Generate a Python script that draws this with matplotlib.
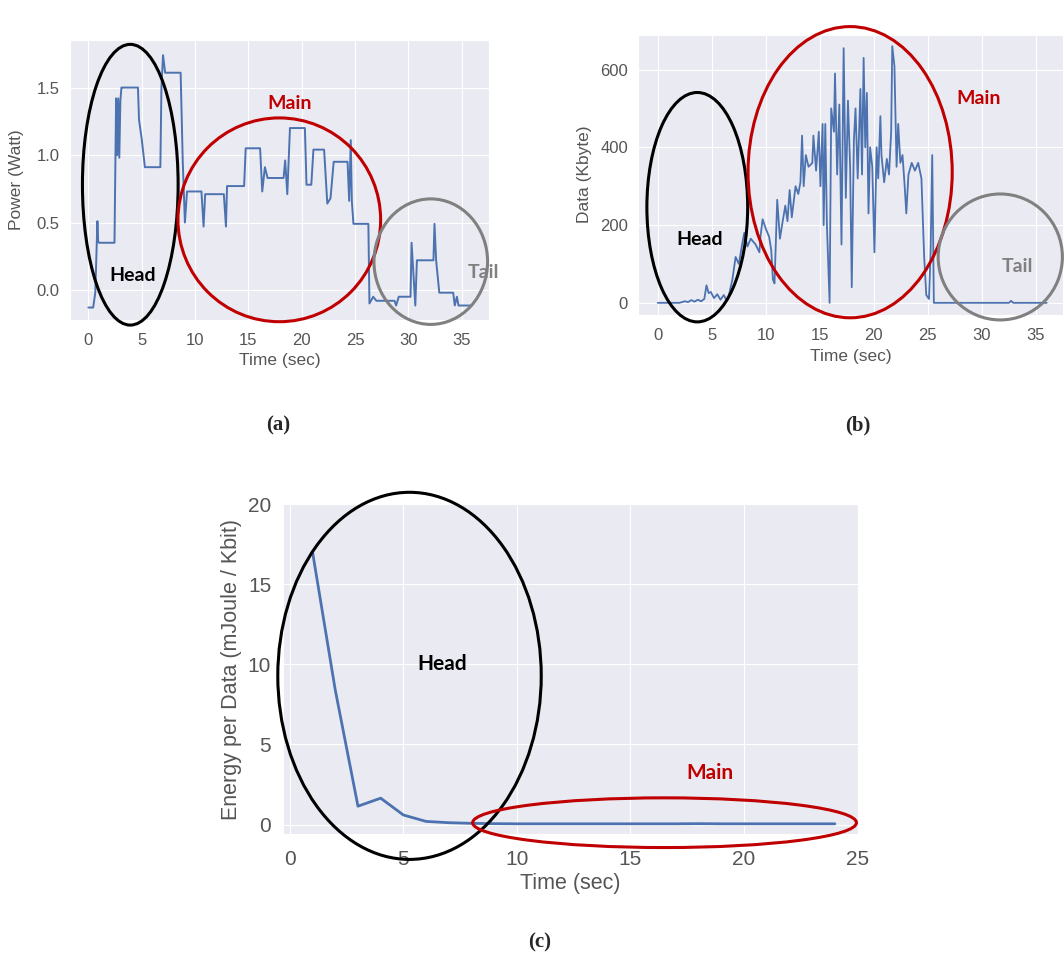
import numpy as np
import matplotlib
matplotlib.use("Agg")
import matplotlib.pyplot as plt
import seaborn as sns
from matplotlib.patches import Ellipse

sns.set_style("darkgrid")
plt.rcParams['font.family'] = ['Liberation Sans', 'DejaVu Sans']

# (a) power trace
power_t = [0, 0.45, 0.65, 0.85, 0.92, 1.0, 2.45, 2.6, 2.7, 2.8, 2.9, 3.0, 3.1, 3.2, 4.65,
           4.75, 5.0, 5.1, 5.3, 6.75, 6.85, 7.0, 7.2, 8.65, 8.85, 9.05, 9.25, 10.6, 10.8, 10.95,
           11.15, 12.7, 12.9, 13.0, 13.15, 14.6, 14.75, 16.1, 16.3, 16.55, 16.8, 18.3, 18.45,
           18.65, 18.9, 20.3, 20.45, 20.9, 21.1, 22.1, 22.4, 22.7, 23.0, 24.3, 24.45, 24.6,
           24.7, 24.85, 26.25, 26.35, 26.7, 27.0, 28.7, 28.85, 29.1, 30.2, 30.3, 30.65, 30.8,
           32.35, 32.45, 32.6, 32.9, 34.2, 34.35, 34.55, 34.7, 35.9]
power_w = [-0.13, -0.13, -0.02, 0.51, 0.36, 0.35, 0.35, 1.42, 1.0, 1.42, 0.98, 1.40, 1.50, 1.50, 1.50,
           1.26, 1.12, 1.05, 0.91, 0.91, 1.5, 1.74, 1.61, 1.61, 0.95, 0.50, 0.73, 0.73, 0.47, 0.71,
           0.71, 0.71, 0.47, 0.77, 0.77, 0.77, 1.05, 1.05, 0.73, 0.91, 0.83, 0.83, 0.96,
           0.71, 1.20, 1.20, 0.78, 0.78, 1.04, 1.04, 0.64, 0.68, 0.95, 0.95, 0.66, 1.11,
           0.66, 0.49, 0.49, -0.10, -0.05, -0.08, -0.08, -0.115, -0.05, -0.05, 0.35, -0.115, 0.22,
           0.22, 0.49, 0.22, -0.02, -0.02, -0.115, -0.05, -0.115, -0.115]

# (b) data volume trace
data_t = [0, 1.0, 2.0, 2.5, 2.8, 3.1, 3.4, 3.7, 4.0, 4.3, 4.5, 4.7, 4.9, 5.2, 5.5, 5.8, 6.1,
          6.3, 6.5, 6.9, 7.2, 7.5, 7.8, 8.0, 8.3, 8.6, 9.05, 9.4, 9.5, 9.7, 10.0, 10.3, 10.5,
          10.65, 10.8, 11.05, 11.3, 11.5, 11.8, 12.0, 12.2, 12.4, 12.75, 13.0, 13.2, 13.35,
          13.5, 13.7, 13.95, 14.3, 14.4, 14.65, 14.9, 15.05, 15.25, 15.35, 15.5, 15.65, 15.9,
          16.05, 16.3, 16.4, 16.6, 16.8, 17.0, 17.2, 17.4, 17.6, 17.8, 17.95, 18.15, 18.3,
          18.5, 18.75, 18.9, 19.05, 19.2, 19.35, 19.5, 19.65, 19.85, 20.05, 20.25, 20.4,
          20.6, 20.7, 20.95, 21.2, 21.4, 21.6, 21.7, 21.9, 22.1, 22.25, 22.45, 22.65, 22.85,
          23.0, 23.2, 23.5, 23.8, 24.1, 24.4, 24.65, 24.85, 25.1, 25.25, 25.4, 25.55, 26.0,
          32.5, 32.7, 32.9, 36.0]
data_kb = [0, 0, 0, 4, 2, 7, 3, 8, 4, 10, 45, 25, 28, 12, 22, 8, 20,
           10, 10, 60, 118, 100, 150, 180, 145, 165, 150, 130, 170, 215, 190, 170, 135,
           60, 50, 265, 165, 200, 250, 210, 290, 220, 300, 280, 310, 430,
           300, 380, 350, 360, 430, 340, 440, 300, 460, 200, 460, 200, 0,
           500, 440, 590, 330, 510, 150, 655, 270, 520, 350, 40, 420, 500,
           320, 550, 330, 630, 400, 540, 230, 400, 350, 130, 400, 320,
           480, 380, 310, 370, 330, 440, 660, 610, 350, 460, 360, 380, 300,
           230, 330, 360, 340, 360, 320, 120, 20, 10, 130, 380, 0, 0,
           0, 5, 0, 0]

# (c) energy per data
epd_t = list(range(1, 25))
epd_v = [17.0, 8.4, 1.15, 1.65, 0.6, 0.2, 0.12, 0.08, 0.06, 0.05, 0.05, 0.05, 0.05, 0.05,
         0.05, 0.05, 0.05, 0.06, 0.05, 0.05, 0.05, 0.05, 0.05, 0.05]

blue = "#4C72B0"
gray_txt = "#555555"

fig = plt.figure(figsize=(10.64, 9.6), dpi=100)
ax_a = fig.add_axes([0.066, 0.667, 0.394, 0.291])
ax_b = fig.add_axes([0.600, 0.672, 0.399, 0.292])
ax_c = fig.add_axes([0.266, 0.131, 0.540, 0.344])


def style(ax, tick_size, label_size, xpad, ypad):
    ax.tick_params(labelsize=tick_size, colors=gray_txt)
    ax.tick_params(axis="x", pad=xpad)
    ax.tick_params(axis="y", pad=ypad)
    ax.xaxis.label.set_color(gray_txt)
    ax.yaxis.label.set_color(gray_txt)
    ax.xaxis.label.set_size(label_size)
    ax.yaxis.label.set_size(label_size)


def ring(ax, cx, cy, w, h, color, lw=2.2):
    ax.add_patch(Ellipse((cx, cy), w, h, fill=False, edgecolor=color, lw=lw, clip_on=False, zorder=5))


ann = dict(fontweight="bold", family=["Lato", "DejaVu Sans"], ha="center", va="center")

# (a)
ax_a.plot(power_t, power_w, color=blue, lw=1.4)
ax_a.set_xlim(-1.7, 37.6)
ax_a.set_ylim(-0.22, 1.85)
ax_a.set_xticks([0, 5, 10, 15, 20, 25, 30, 35])
ax_a.set_yticks([0.0, 0.5, 1.0, 1.5])
ax_a.set_xlabel("Time (sec)", labelpad=4)
ax_a.set_ylabel("Power (Watt)", labelpad=9)
style(ax_a, 12, 12.5, 6, 4)
ring(ax_a, 3.93, 0.78, 8.97, 2.08, "black")
ring(ax_a, 17.9, 0.52, 19.0, 1.51, "#c00000")
ring(ax_a, 32.1, 0.21, 10.65, 0.93, "#808080")
ax_a.text(4.2, 0.11, "Head", color="black", fontsize=14, **ann)
ax_a.text(18.9, 1.38, "Main", color="#c00000", fontsize=14, **ann)
ax_a.text(37.0, 0.13, "Tail", color="#808080", fontsize=14, **ann)

# (b)
ax_b.plot(data_t, data_kb, color=blue, lw=1.3)
ax_b.set_xlim(-1.8, 37.5)
ax_b.set_ylim(-31, 690)
ax_b.set_xticks([0, 5, 10, 15, 20, 25, 30, 35])
ax_b.set_yticks([0, 200, 400, 600])
ax_b.set_xlabel("Time (sec)", labelpad=4)
ax_b.set_ylabel("Data (Kbyte)", labelpad=6)
style(ax_b, 12, 12.5, 6, 4)
ring(ax_b, 3.65, 246, 9.33, 590, "black")
ring(ax_b, 17.8, 336, 18.9, 749, "#c00000")
ring(ax_b, 31.7, 118, 11.5, 324, "#808080")
ax_b.text(3.9, 164, "Head", color="black", fontsize=14, **ann)
ax_b.text(29.7, 526, "Main", color="#c00000", fontsize=14, **ann)
ax_b.text(33.3, 93, "Tail", color="#808080", fontsize=14, **ann)

# (c)
ax_c.plot(epd_t, epd_v, color=blue, lw=2.0)
ax_c.set_xlim(-0.3, 25.0)
ax_c.set_ylim(-0.6, 20.0)
ax_c.set_xticks([0, 5, 10, 15, 20, 25])
ax_c.set_yticks([0, 5, 10, 15, 20])
ax_c.set_xlabel("Time (sec)", labelpad=3)
ax_c.set_ylabel("Energy per Data (mJoule / Kbit)", labelpad=4)
style(ax_c, 15, 15.5, 8, 5)
ring(ax_c, 5.27, 9.28, 11.6, 22.9, "black")
ring(ax_c, 16.5, 0.12, 16.9, 3.1, "#c00000")
ax_c.text(6.7, 10.0, "Head", color="black", fontsize=15, **ann)
ax_c.text(18.5, 3.2, "Main", color="#c00000", fontsize=15, **ann)

# panel captions
cap = dict(fontweight="bold", family=["Liberation Serif", "DejaVu Serif"], fontsize=15,
           ha="center", va="center")
fig.text(278 / 1064, 1 - 425 / 960, "(a)", **cap)
fig.text(858 / 1064, 1 - 425 / 960, "(b)", **cap)
fig.text(540 / 1064, 1 - 942 / 960, "(c)", **cap)

fig.savefig("out.png", dpi=100)
